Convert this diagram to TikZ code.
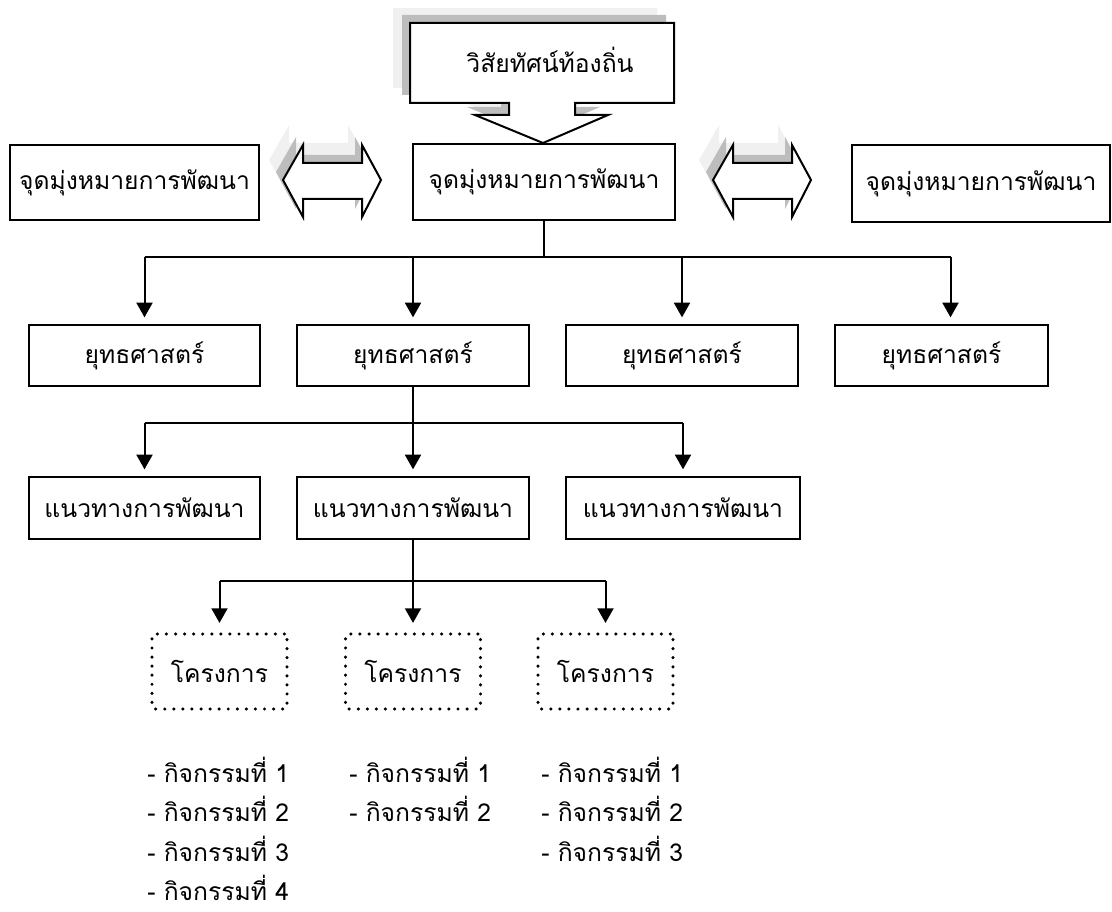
\documentclass[tikz,border=0pt]{standalone}
\usepackage{fontspec}
\usepackage{xcolor}
\usepackage{tikz}
\usetikzlibrary{arrows.meta}
\newfontfamily\thaifont[Script=Thai]{Loma}

\definecolor{shdark}{gray}{0.74}
\definecolor{shlight}{gray}{0.94}

\tikzset{
	box/.style 2 args={draw,line width=1.5pt,fill=white,inner sep=0pt,
		minimum width=#1*0.75pt,minimum height=#2*0.75pt,font=\thaifont\fontsize{18.5}{22}\selectfont},
	dotbox/.style={box={135}{75},draw,line width=2.6pt,line cap=round,rounded corners=2pt,
		dash pattern=on 0pt off 6.8pt},
	flow/.style={line width=1.5pt,-{Triangle[width=12pt,length=11pt]},shorten >=5pt},
	link/.style={line width=1.5pt},
	listtext/.style={anchor=north west,align=left,inner sep=0pt,
		font=\thaifont\fontsize{18.5}{29.5}\selectfont},
}

\begin{document}
\begin{tikzpicture}[x=0.75pt,y=-0.75pt]
	\useasboundingbox (0,0) rectangle (1112,912);

	% vision callout with its shadows
	\foreach \dx/\dy/\col in {-17/-15/shlight,-8/-8/shdark}
		\fill[\col,shift={(\dx,\dy)}] (410,23) -- (674,23) -- (674,103) -- (575,103) -- (575,115) -- (608,115)
			-- (543,143) -- (475,115) -- (509,115) -- (509,103) -- (410,103) -- cycle;
	\filldraw[fill=white,line width=1.5pt,line join=miter] (410,23) -- (674,23) -- (674,103) -- (575,103) -- (575,115) -- (608,115)
		-- (543,143) -- (475,115) -- (509,115) -- (509,103) -- (410,103) -- cycle;
	\node[font=\thaifont\fontsize{18.5}{22}\selectfont] (vision) at (550,60) {วิสัยทัศน์ท้องถิ่น};

	% two-way arrows
	\foreach \sx in {0,430} {
		\foreach \dx/\dy/\col in {-14/-20/shlight,-7/-8/shdark}
			\fill[\col,shift={(\sx+\dx,\dy)}] (283,180) -- (303,145) -- (303,163) -- (362,163) -- (362,145) -- (381,180)
				-- (362,217) -- (362,199) -- (303,199) -- (303,217) -- cycle;
		\filldraw[fill=white,line width=1.5pt,shift={(\sx,0)}] (283,180) -- (303,145) -- (303,163) -- (362,163) -- (362,145)
			-- (381,180) -- (362,217) -- (362,199) -- (303,199) -- (303,217) -- cycle;
	}

	% goals
	\node[box={249}{75}] (goalL) at (134.5,182.5) {จุดมุ่งหมายการพัฒนา};
	\node[box={262}{76}] (goal) at (544,182) {จุดมุ่งหมายการพัฒนา};
	\node[box={258}{77}] (goalR) at (981,183.5) {จุดมุ่งหมายการพัฒนา};

	% strategies
	\node[box={231}{61}] (strat1) at (144.5,355.5) {ยุทธศาสตร์};
	\node[box={232}{61}] (strat2) at (413,355.5) {ยุทธศาสตร์};
	\node[box={232}{61}] (strat3) at (682,355.5) {ยุทธศาสตร์};
	\node[box={213}{61}] (strat4) at (941.5,355.5) {ยุทธศาสตร์};

	% guidelines
	\node[box={231}{62}] (guide1) at (144.5,508) {แนวทางการพัฒนา};
	\node[box={232}{62}] (guide2) at (413,508) {แนวทางการพัฒนา};
	\node[box={234}{62}] (guide3) at (683,508) {แนวทางการพัฒนา};

	% projects
	\node[dotbox] (proj1) at (219.5,671.5) {โครงการ};
	\node[dotbox] (proj2) at (413,671.5) {โครงการ};
	\node[dotbox] (proj3) at (605.5,671.5) {โครงการ};

	% connectors
	\coordinate (bar1) at (0,257);
	\coordinate (bar2) at (0,423);
	\coordinate (bar3) at (0,581);
	\draw[link] (goal.south) -- (goal.south |- bar1);
	\draw[link] (strat1.north |- bar1) -- ([xshift=6.75pt]strat4.north |- bar1);
	\draw[flow] (strat1.north |- bar1) -- (strat1.north);
	\draw[flow] (strat2.north |- bar1) -- (strat2.north);
	\draw[flow] (strat3.north |- bar1) -- (strat3.north);
	\draw[flow] ([xshift=6.75pt]strat4.north |- bar1) -- ([xshift=6.75pt]strat4.north);

	\draw[link] (strat2.south) -- (strat2.south |- bar2);
	\draw[link] (guide1.north |- bar2) -- (guide3.north |- bar2);
	\draw[flow] (guide1.north |- bar2) -- (guide1.north);
	\draw[flow] (guide2.north |- bar2) -- (guide2.north);
	\draw[flow] (guide3.north |- bar2) -- (guide3.north);

	\draw[link] (guide2.south) -- (guide2.south |- bar3);
	\draw[link] (proj1.north |- bar3) -- (proj3.north |- bar3);
	\draw[flow,shorten >=7pt] (proj1.north |- bar3) -- (proj1.north);
	\draw[flow,shorten >=7pt] (proj2.north |- bar3) -- (proj2.north);
	\draw[flow,shorten >=7pt] (proj3.north |- bar3) -- (proj3.north);

	% activities
	\node[listtext] (acts1) at (147,757) {- กิจกรรมที่ 1\\- กิจกรรมที่ 2\\- กิจกรรมที่ 3\\- กิจกรรมที่ 4};
	\node[listtext] (acts2) at (349,757) {- กิจกรรมที่ 1\\- กิจกรรมที่ 2};
	\node[listtext] (acts3) at (541,757) {- กิจกรรมที่ 1\\- กิจกรรมที่ 2\\- กิจกรรมที่ 3};
\end{tikzpicture}
\end{document}
